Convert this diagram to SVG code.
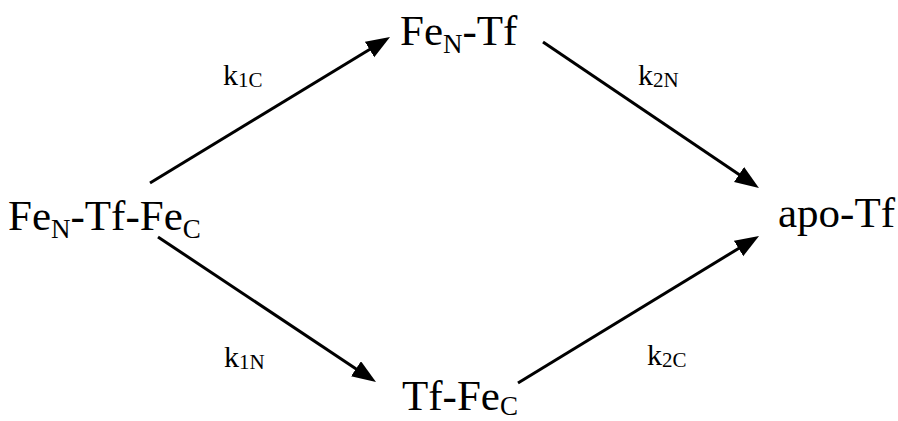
<svg xmlns="http://www.w3.org/2000/svg" width="898" height="421" viewBox="0 0 898 421">
  <style>
    .species { font-family: "Liberation Serif", "Times New Roman", serif; font-size: 43px; fill: #000; }
    .rate { font-family: "Liberation Serif", "Times New Roman", serif; font-size: 30px; fill: #000; }
    .sub { font-size: 27px; }
    .rsub { font-size: 21px; }
    .conn { stroke: #000; stroke-width: 3; fill: none; marker-end: url(#arrow); }
  </style>
  <defs>
    <marker id="arrow" markerUnits="userSpaceOnUse" markerWidth="26" markerHeight="20" refX="12" refY="9" orient="auto">
      <path d="M0,0 L24,9 L0,18 z" fill="#000"/>
    </marker>
  </defs>
  <rect width="898" height="421" fill="#fff"/>

  <g id="connectors">
    <line class="conn" x1="150" y1="183" x2="379.8" y2="43.2"/>
    <line class="conn" x1="543" y1="42" x2="749" y2="181.3"/>
    <line class="conn" x1="158" y1="237" x2="366" y2="375.4"/>
    <line class="conn" x1="518" y1="383" x2="748.8" y2="242.2"/>
  </g>

  <g id="rate-labels">
    <text class="rate" x="223" y="85">k<tspan class="rsub" dy="2">1C</tspan></text>
    <text class="rate" x="638" y="85">k<tspan class="rsub" dy="2">2N</tspan></text>
    <text class="rate" x="224" y="367">k<tspan class="rsub" dy="2">1N</tspan></text>
    <text class="rate" x="647" y="365">k<tspan class="rsub" dy="2">2C</tspan></text>
  </g>

  <g id="node-fe2tf">
    <text class="species" x="8" y="230">Fe<tspan class="sub" dy="8">N</tspan><tspan dy="-8">-Tf-Fe</tspan><tspan class="sub" dy="8">C</tspan></text>
  </g>
  <g id="node-fentf">
    <text class="species" x="400" y="45">Fe<tspan class="sub" dy="8">N</tspan><tspan dy="-8">-Tf</tspan></text>
  </g>
  <g id="node-tffec">
    <text class="species" x="402" y="410">Tf-Fe<tspan class="sub" dy="5">C</tspan></text>
  </g>
  <g id="node-apotf">
    <text class="species" x="778" y="227">apo-Tf</text>
  </g>
</svg>
